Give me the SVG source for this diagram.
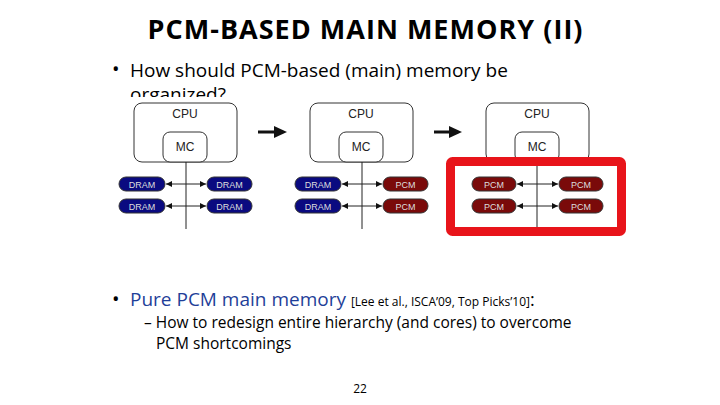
<svg xmlns="http://www.w3.org/2000/svg" width="720" height="405" viewBox="0 0 720 405">
<style>
.t{font-family:"Open Sans","Liberation Sans",sans-serif;fill:#000}
.box{fill:#fff;stroke:#333;stroke-width:1}
.lbl{font-family:"Liberation Sans",Arial,sans-serif;font-size:12px;text-anchor:middle;fill:#222}
.pl{font-family:"Liberation Sans",Arial,sans-serif;font-size:9px;text-anchor:middle;fill:#ddd}
.dram{fill:#0a0a80;stroke:#333}
.pcm{fill:#7a0a0a;stroke:#333}
.ln{stroke:#222;stroke-width:1}
</style>
<defs>
<marker id="a" markerWidth="6" markerHeight="6" refX="6" refY="3" orient="auto-start-reverse"><path d="M0,0L6,3L0,6z" fill="#111"/></marker>
</defs>
<rect width="720" height="405" fill="#fff"/>
<text class="t" x="365" y="39" font-size="27" font-weight="bold" text-anchor="middle" textLength="435">PCM-BASED MAIN MEMORY (II)</text>
<text class="t" x="112" y="76" font-size="20">•</text>
<text class="t" x="130" y="77" font-size="19">How should PCM-based (main) memory be</text>
<text class="t" x="130" y="101" font-size="19">organized?</text>
<rect x="110" y="97" width="520" height="10" fill="#fff"/>
<g id="panel1">
<rect class="box" x="134" y="103" width="103" height="59" rx="8"/>
<text class="lbl" x="185" y="118">CPU</text>
<rect class="box" x="163" y="132" width="44" height="30" rx="7"/>
<text class="lbl" x="185" y="151">MC</text>
<line class="ln" x1="186" y1="162" x2="186" y2="229"/>
<line class="ln" x1="166" y1="184" x2="206" y2="184" marker-start="url(#a)" marker-end="url(#a)"/>
<line class="ln" x1="166" y1="206" x2="206" y2="206" marker-start="url(#a)" marker-end="url(#a)"/>
<rect class="dram" x="119" y="177" width="46" height="14" rx="7"/><text class="pl" x="142" y="187.5">DRAM</text>
<rect class="dram" x="207" y="177" width="45" height="14" rx="7"/><text class="pl" x="229.5" y="187.5">DRAM</text>
<rect class="dram" x="119" y="199" width="46" height="14" rx="7"/><text class="pl" x="142" y="209.5">DRAM</text>
<rect class="dram" x="207" y="199" width="45" height="14" rx="7"/><text class="pl" x="229.5" y="209.5">DRAM</text>
</g>
<g id="panel2">
<rect class="box" x="310" y="103" width="103" height="59" rx="8"/>
<text class="lbl" x="361" y="118">CPU</text>
<rect class="box" x="339" y="132" width="44" height="30" rx="7"/>
<text class="lbl" x="361" y="151">MC</text>
<line class="ln" x1="362" y1="162" x2="362" y2="229"/>
<line class="ln" x1="342" y1="184" x2="382" y2="184" marker-start="url(#a)" marker-end="url(#a)"/>
<line class="ln" x1="342" y1="206" x2="382" y2="206" marker-start="url(#a)" marker-end="url(#a)"/>
<rect class="dram" x="295" y="177" width="46" height="14" rx="7"/><text class="pl" x="318" y="187.5">DRAM</text>
<rect class="pcm" x="383" y="177" width="45" height="14" rx="7"/><text class="pl" x="405.5" y="187.5">PCM</text>
<rect class="dram" x="295" y="199" width="46" height="14" rx="7"/><text class="pl" x="318" y="209.5">DRAM</text>
<rect class="pcm" x="383" y="199" width="45" height="14" rx="7"/><text class="pl" x="405.5" y="209.5">PCM</text>
</g>
<g id="panel3">
<rect class="box" x="486" y="103" width="103" height="59" rx="8"/>
<text class="lbl" x="537" y="118">CPU</text>
<rect class="box" x="515" y="132" width="44" height="30" rx="7"/>
<text class="lbl" x="537" y="151">MC</text>
<rect x="450.5" y="161.5" width="171" height="70" fill="#fff" stroke="#e8141a" stroke-width="9" rx="2"/>
<line class="ln" x1="537" y1="166" x2="537" y2="227"/>
<line class="ln" x1="517" y1="184" x2="558" y2="184" marker-start="url(#a)" marker-end="url(#a)"/>
<line class="ln" x1="517" y1="206" x2="558" y2="206" marker-start="url(#a)" marker-end="url(#a)"/>
<rect class="pcm" x="472" y="177" width="44" height="14" rx="7"/><text class="pl" x="494" y="187.5">PCM</text>
<rect class="pcm" x="559" y="177" width="44" height="14" rx="7"/><text class="pl" x="581" y="187.5">PCM</text>
<rect class="pcm" x="472" y="199" width="44" height="14" rx="7"/><text class="pl" x="494" y="209.5">PCM</text>
<rect class="pcm" x="559" y="199" width="44" height="14" rx="7"/><text class="pl" x="581" y="209.5">PCM</text>
</g>
<g id="connectors">
<path d="M258,132H276" stroke="#111" stroke-width="3"/><path d="M274,126L287,132L274,138z" fill="#111"/>
<path d="M434,132H450" stroke="#111" stroke-width="3"/><path d="M449,126L462,132L449,138z" fill="#111"/>
</g>
<text class="t" x="112" y="306" font-size="20">•</text>
<text class="t" x="130" y="306"><tspan font-size="19" fill="#1f3f99">Pure PCM main memory </tspan><tspan font-size="12">[Lee et al., ISCA’09, Top Picks’10]</tspan><tspan font-size="18">:</tspan></text>
<text class="t" x="144" y="328" font-size="15.5">– How to redesign entire hierarchy (and cores) to overcome</text>
<text class="t" x="156" y="349" font-size="15.5">PCM shortcomings</text>
<text class="t" x="360" y="393" font-size="12" text-anchor="middle">22</text>
</svg>
